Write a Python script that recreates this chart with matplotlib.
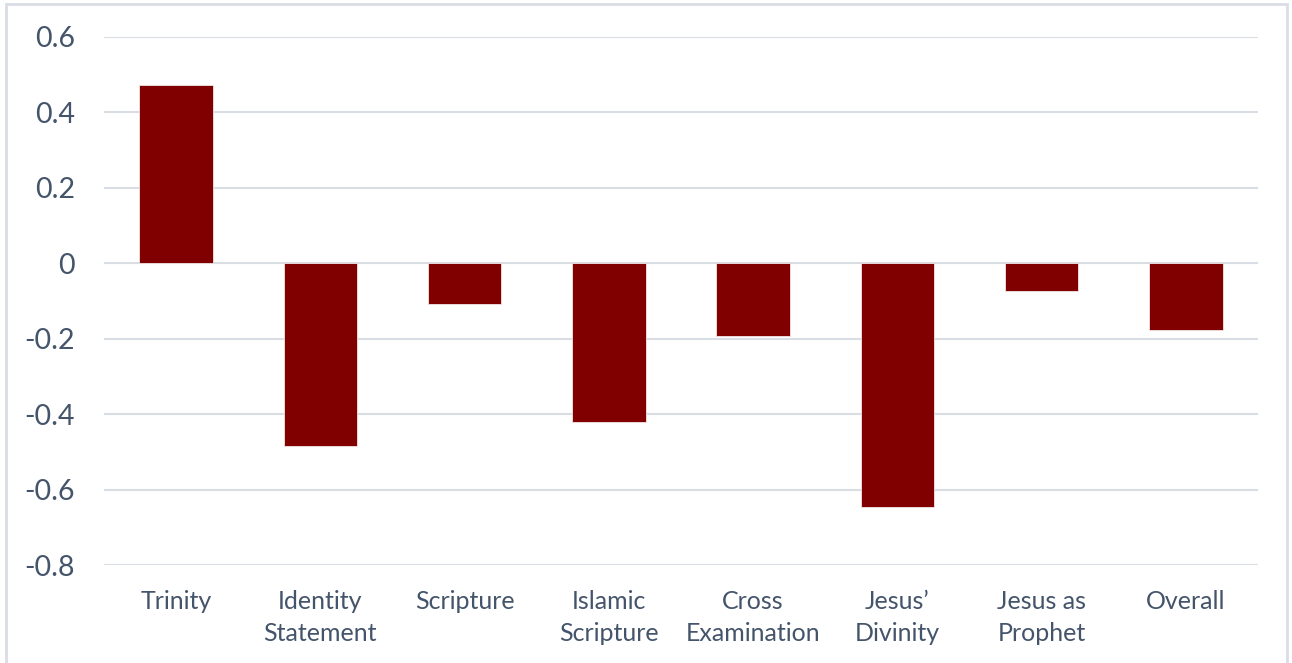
import matplotlib.pyplot as plt
from matplotlib.patches import Rectangle

categories = ["Trinity", "Identity\nStatement", "Scripture", "Islamic\nScripture",
              "Cross\nExamination", "Jesus\u2019\nDivinity", "Jesus as\nProphet", "Overall"]
values = [0.472, -0.485, -0.109, -0.422, -0.194, -0.647, -0.074, -0.178]
yticks = [-0.8, -0.6, -0.4, -0.2, 0, 0.2, 0.4, 0.6]
ylabels = ["-0.8", "-0.6", "-0.4", "-0.2", "0", "0.2", "0.4", "0.6"]

text_col = "#44546A"
grid_col = "#D9DEE5"

plt.rcParams["font.family"] = ["Lato", "DejaVu Sans"]

fig = plt.figure(figsize=(12.92, 6.63), dpi=100)
ax = fig.add_axes([0.0805, 0.1478, 0.8932, 0.7964])

x = range(len(categories))
ax.bar(x, values, width=0.51, color="#800000", edgecolor="#F2E6E6", linewidth=0.6, zorder=3)

ax.set_ylim(-0.8, 0.6)
ax.set_xlim(-0.5, len(categories) - 0.5)
ax.set_yticks(yticks)
ax.set_yticklabels(ylabels)
ax.set_xticks(list(x))
ax.set_xticklabels(categories, linespacing=1.45)
ax.yaxis.grid(True, color=grid_col, linewidth=1.5, zorder=0)
ax.tick_params(axis="y", length=0, pad=21, labelsize=20.5, labelcolor=text_col)
ax.tick_params(axis="x", length=0, pad=18, labelsize=18, labelcolor=text_col)
for s in ax.spines.values():
    s.set_visible(False)

# light frame around the whole chart
fig.patches.append(Rectangle((6 / 1292, -0.01), 1281 / 1292, 1 - 4 / 663 + 0.01,
                             transform=fig.transFigure, fill=False,
                             edgecolor="#D9DEE5", linewidth=2))

fig.savefig("out.png", dpi=100)
